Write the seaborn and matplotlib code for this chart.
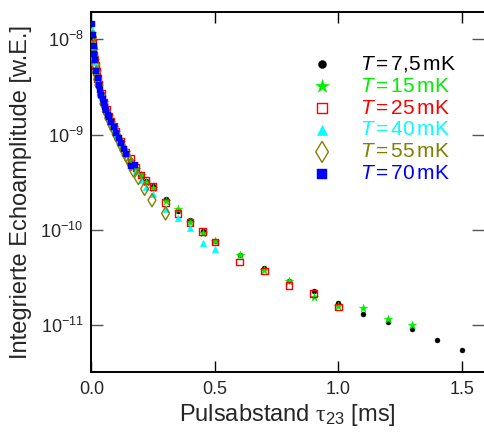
import numpy as np
import pandas as pd
import matplotlib
matplotlib.use("Agg")
import matplotlib.pyplot as plt
import seaborn as sns
from matplotlib.ticker import NullLocator, FixedLocator

# ---------------- data ----------------
labels = ["7,5", "15", "25", "40", "55", "70"]
colors = ["black", "#00ee00", "red", "cyan", "#808000", "blue"]

tau_75 = [0.004, 0.01, 0.015, 0.02, 0.03, 0.04, 0.05, 0.06, 0.07, 0.08, 0.09, 0.10, 0.12, 0.14,
          0.16, 0.18, 0.20, 0.22, 0.25, 0.30, 0.35, 0.40, 0.45, 0.50, 0.60, 0.70, 0.80, 0.90,
          1.00, 1.10, 1.20, 1.30, 1.40, 1.50]
amp_75 = [1.0e-8, 7.6e-9, 6.1e-9, 4.7e-9, 3.4e-9, 2.65e-9, 2.15e-9, 1.8e-9, 1.52e-9, 1.34e-9,
          1.2e-9, 1.06e-9, 8.1e-10, 6.4e-10, 5.3e-10, 4.4e-10, 3.75e-10, 3.25e-10, 2.9e-10,
          2.1e-10, 1.56e-10, 1.27e-10, 9.8e-11, 7.7e-11, 5.4e-11, 4.0e-11, 2.9e-11, 2.3e-11,
          1.73e-11, 1.30e-11, 1.09e-11, 9.1e-12, 7.0e-12, 5.5e-12]

tau_15 = [0.003, 0.006, 0.01, 0.015, 0.02, 0.03, 0.04, 0.05, 0.06, 0.07, 0.08, 0.09, 0.10, 0.12,
          0.14, 0.16, 0.18, 0.20, 0.22, 0.25, 0.30, 0.35, 0.40, 0.45, 0.50, 0.60, 0.70, 0.80,
          0.90, 1.00, 1.10, 1.20, 1.30]
amp_15 = [1.15e-8, 9.5e-9, 7.8e-9, 6.0e-9, 4.8e-9, 3.45e-9, 2.7e-9, 2.2e-9, 1.82e-9, 1.55e-9,
          1.36e-9, 1.2e-9, 1.07e-9, 8.3e-10, 6.5e-10, 5.3e-10, 4.4e-10, 3.8e-10, 3.2e-10,
          2.75e-10, 2.0e-10, 1.65e-10, 1.2e-10, 9.2e-11, 7.6e-11, 5.5e-11, 3.8e-11, 2.9e-11,
          2.0e-11, 1.6e-11, 1.53e-11, 1.15e-11, 1.01e-11]

tau_25 = [0.004, 0.008, 0.012, 0.016, 0.02, 0.025, 0.03, 0.04, 0.05, 0.06, 0.07, 0.08, 0.09,
          0.10, 0.12, 0.14, 0.16, 0.18, 0.20, 0.22, 0.25, 0.30, 0.35, 0.40, 0.45, 0.50, 0.60,
          0.70, 0.80, 0.90, 1.00]
amp_25 = [9.0e-9, 6.85e-9, 6.2e-9, 5.3e-9, 4.6e-9, 3.9e-9, 3.4e-9, 2.7e-9, 2.2e-9, 1.85e-9,
          1.55e-9, 1.37e-9, 1.22e-9, 1.08e-9, 8.5e-10, 6.6e-10, 5.6e-10, 4.5e-10, 3.75e-10,
          3.3e-10, 2.84e-10, 1.94e-10, 1.49e-10, 1.2e-10, 9.6e-11, 7.5e-11, 4.6e-11, 3.7e-11,
          2.6e-11, 2.15e-11, 1.55e-11]

tau_40 = [0.003, 0.007, 0.011, 0.015, 0.02, 0.025, 0.03, 0.04, 0.05, 0.06, 0.07, 0.08, 0.09,
          0.10, 0.12, 0.14, 0.16, 0.18, 0.20, 0.22, 0.25, 0.30, 0.35, 0.40, 0.45, 0.50]
amp_40 = [1.27e-8, 8.8e-9, 6.9e-9, 5.8e-9, 4.6e-9, 3.85e-9, 3.3e-9, 2.6e-9, 2.1e-9, 1.75e-9,
          1.48e-9, 1.3e-9, 1.16e-9, 1.02e-9, 7.9e-10, 6.2e-10, 5.0e-10, 4.1e-10, 3.3e-10,
          2.8e-10, 2.37e-10, 1.65e-10, 1.32e-10, 1.04e-10, 7.2e-11, 6.3e-11]

tau_55 = [0.004, 0.008, 0.012, 0.016, 0.02, 0.025, 0.03, 0.04, 0.05, 0.06, 0.07, 0.08, 0.09,
          0.10, 0.11, 0.12, 0.13, 0.14, 0.15, 0.16, 0.17, 0.19, 0.215, 0.245, 0.30]
amp_55 = [1.05e-8, 8.0e-9, 6.5e-9, 5.4e-9, 4.5e-9, 3.8e-9, 3.3e-9, 2.6e-9, 2.1e-9, 1.75e-9,
          1.48e-9, 1.3e-9, 1.15e-9, 1.0e-9, 8.9e-10, 7.8e-10, 6.9e-10, 6.1e-10, 5.5e-10,
          4.9e-10, 4.2e-10, 3.5e-10, 2.7e-10, 2.05e-10, 1.49e-10]

tau_70 = [0.003, 0.006, 0.009, 0.012, 0.015, 0.02, 0.025, 0.03, 0.035, 0.04, 0.045, 0.05, 0.055,
          0.06, 0.065, 0.07, 0.08, 0.09, 0.10, 0.11, 0.12, 0.13, 0.14, 0.16, 0.175]
amp_70 = [1.45e-8, 1.1e-8, 8.4e-9, 7.0e-9, 6.0e-9, 4.6e-9, 3.9e-9, 3.35e-9, 2.95e-9, 2.6e-9,
          2.35e-9, 2.15e-9, 1.95e-9, 1.8e-9, 1.62e-9, 1.52e-9, 1.34e-9, 1.2e-9, 1.04e-9,
          9.3e-10, 8.2e-10, 7.0e-10, 6.2e-10, 4.7e-10, 4.8e-10]

x_ticks = [0.0, 0.5, 1.0, 1.5]
x_ticklabels = ["0.0", "0.5", "1.0", "1.5"]
y_ticks = [1e-11, 1e-10, 1e-9, 1e-8]
y_ticklabels = [r"$\mathdefault{10^{-11}}$", r"$\mathdefault{10^{-10}}$",
                r"$\mathdefault{10^{-9}}$", r"$\mathdefault{10^{-8}}$"]

series = [
    (tau_75, amp_75, "o", True, 13),
    (tau_15, amp_15, "*", True, 40),
    (tau_25, amp_25, "s", False, 22),
    (tau_40, amp_40, "^", True, 22),
    (tau_55, amp_55, "d", False, 45),
    (tau_70, amp_70, "s", True, 24),
]

# ---------------- style ----------------
sns.set_style("ticks")
plt.rcParams["font.family"] = ["Liberation Sans", "DejaVu Sans"]
plt.rcParams["mathtext.fontset"] = "custom"
plt.rcParams["mathtext.rm"] = "Liberation Sans"
plt.rcParams["mathtext.it"] = "Liberation Sans:italic"
plt.rcParams["mathtext.sf"] = "Liberation Serif"
plt.rcParams["axes.unicode_minus"] = False

fig = plt.figure(figsize=(4.84, 4.33), dpi=100)
ax = fig.add_axes([90.5 / 484, (433 - 372.3) / 433, (484 - 90.5) / 484, (372.3 - 12.3) / 433])

for (t, a, m, filled, s), lab, c in zip(series, labels, colors):
    df = pd.DataFrame({"tau": t, "amp": a})
    if filled:
        sns.scatterplot(data=df, x="tau", y="amp", marker=m, s=s, color=c,
                        edgecolor=c, linewidth=0.3, ax=ax, label=lab, zorder=3)
    else:
        sns.scatterplot(data=df, x="tau", y="amp", marker=m, s=s, facecolors="none",
                        edgecolor=c, linewidth=1.0, ax=ax, label=lab, zorder=3)

ax.set_yscale("log")
ax.set_xlim(-0.004, 1.590)
ax.set_ylim(10 ** (-11.494), 10 ** (-7.717))
ax.set_xticks(x_ticks)
ax.set_xticklabels(x_ticklabels)
ax.yaxis.set_major_locator(FixedLocator(y_ticks))
ax.set_yticklabels(y_ticklabels)
ax.yaxis.set_minor_locator(NullLocator())
ax.xaxis.set_minor_locator(NullLocator())

ax.tick_params(axis="both", which="major", direction="in", top=True, right=True,
               labelsize=13, width=1.0)
ax.tick_params(axis="x", length=8, color="black", pad=6)
ax.tick_params(axis="y", length=8.5, color="#555555", pad=5)
for side in ["left", "bottom", "top"]:
    ax.spines[side].set_linewidth(1.4)
    ax.spines[side].set_color("black")
ax.spines["right"].set_visible(False)

ax.set_xlabel(r"Pulsabstand $\mathsf{\tau}_{\mathdefault{23}}$ [ms]", fontsize=17, labelpad=3)
ax.set_ylabel("Integrierte Echoamplitude [w.E.]", fontsize=17, labelpad=6)

h, l = ax.get_legend_handles_labels()
leg_labels = [r"$T$$\,$=$\,$" + v + r"$\,$mK" for v in labels]
leg = ax.legend(h, leg_labels, loc="upper left", bbox_to_anchor=(0.562, 0.885),
                frameon=False, fontsize=15, markerscale=1.6, handlelength=1.0,
                handletextpad=1.3, labelspacing=0.14, borderpad=0.0, borderaxespad=0.0)
for txt, c in zip(leg.get_texts(), colors):
    txt.set_color(c)

fig.savefig("out.png", dpi=100)
